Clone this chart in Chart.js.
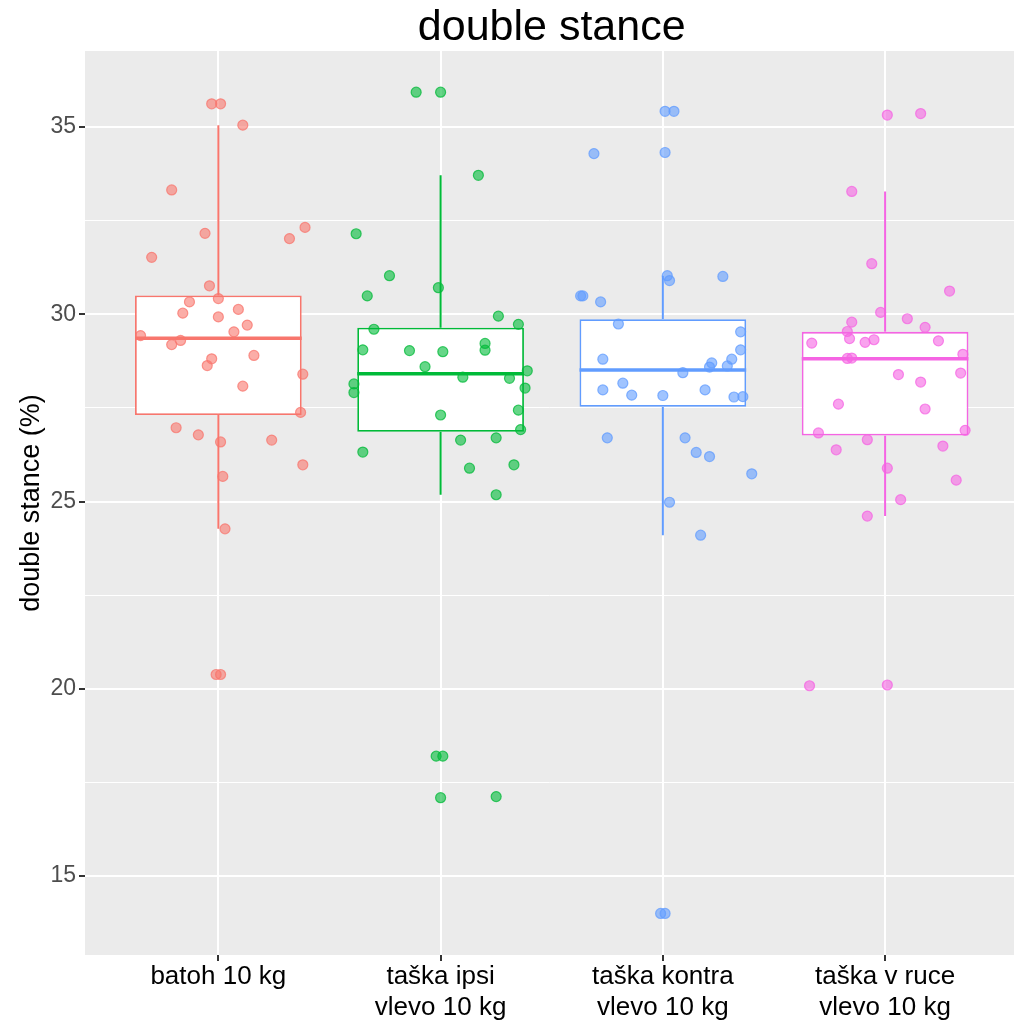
<!DOCTYPE html>
<html>
<head>
<meta charset="utf-8">
<title>double stance</title>
<script src="https://cdn.jsdelivr.net/npm/chart.js@4/dist/chart.umd.min.js"></script>
<style>
  body { margin: 0; background: #fff; }
  canvas { display: block; }
</style>
</head>
<body>
<canvas id="stanceChart" width="1014" height="1023"></canvas>
<script>
var chartTitle = "double stance"
var yTitle = "double stance (%)"
var groupLabels = [["batoh 10 kg"], ["taška ipsi", "vlevo 10 kg"], ["taška kontra", "vlevo 10 kg"], ["taška v ruce", "vlevo 10 kg"]]
var groupColors = ["248,118,109", "0,186,56", "97,156,255", "245,100,227"]

// box statistics per group
var boxLow = [24.27, 25.18, 24.10, 24.61]
var boxQ1 = [27.31, 26.86, 27.53, 26.76]
var boxMedian = [29.36, 28.41, 28.51, 28.81]
var boxQ3 = [30.50, 29.64, 29.87, 29.53]
var boxHigh = [35.05, 33.71, 31.03, 33.28]

// measured values and their horizontal jitter (in category units)
var batohY = [35.62, 35.62, 35.05, 33.32, 32.16, 32.02, 32.32, 31.52, 30.76, 30.42, 30.33, 30.13, 30.03, 29.93, 29.71, 29.53, 29.43, 29.30, 29.19, 28.90, 28.81, 28.63, 28.40, 28.08, 27.38, 26.97, 26.78, 26.59, 26.64, 25.98, 25.67, 24.27, 20.38, 20.38]
var batohDx = [-0.03, 0.01, 0.11, -0.21, -0.06, 0.32, 0.39, -0.30, -0.04, 0.00, -0.13, 0.09, -0.16, 0.00, 0.13, 0.07, -0.35, -0.17, -0.21, 0.16, -0.03, -0.05, 0.38, 0.11, 0.37, -0.19, -0.09, 0.01, 0.24, 0.38, 0.02, 0.03, -0.01, 0.01]

var ipsiY = [35.93, 35.93, 33.71, 32.15, 31.03, 30.49, 30.71, 29.95, 29.73, 29.60, 29.05, 29.03, 29.00, 29.22, 29.04, 28.60, 28.49, 28.14, 27.91, 28.32, 28.29, 28.03, 27.44, 27.31, 26.92, 26.64, 26.70, 26.32, 25.89, 25.98, 25.18, 18.20, 18.20, 17.09, 17.12]
var ipsiDx = [-0.11, 0.00, 0.17, -0.38, -0.23, -0.33, -0.01, 0.26, 0.35, -0.30, -0.35, -0.14, 0.01, 0.20, 0.20, -0.07, 0.39, -0.39, -0.39, 0.10, 0.31, 0.38, 0.35, 0.00, 0.36, 0.09, 0.25, -0.35, 0.13, 0.33, 0.25, -0.02, 0.01, 0.00, 0.25]

var kontraY = [35.42, 35.42, 34.29, 34.32, 31.03, 30.90, 31.01, 30.49, 30.49, 30.33, 29.74, 29.53, 29.05, 28.80, 28.70, 28.59, 28.80, 28.62, 28.44, 27.98, 28.16, 27.84, 27.83, 27.98, 27.79, 27.80, 26.70, 26.70, 26.31, 26.20, 25.74, 24.98, 24.10, 14.00, 14.00]
var kontraDx = [0.01, 0.05, -0.31, 0.01, 0.02, 0.03, 0.27, -0.37, -0.36, -0.28, -0.20, 0.35, 0.35, -0.27, 0.22, 0.21, 0.31, 0.29, 0.09, -0.27, -0.18, -0.14, 0.00, 0.19, 0.32, 0.36, -0.25, 0.10, 0.15, 0.21, 0.40, 0.03, 0.17, -0.01, 0.01]

var ruceY = [35.32, 35.36, 33.28, 31.35, 30.62, 30.05, 29.88, 29.79, 29.65, 29.54, 29.35, 29.23, 29.25, 29.32, 29.29, 28.93, 28.82, 28.83, 28.43, 28.39, 28.19, 27.60, 27.47, 26.90, 26.83, 26.65, 26.38, 26.48, 25.89, 25.57, 25.05, 24.61, 20.08, 20.10]
var ruceDx = [0.01, 0.16, -0.15, -0.06, 0.29, -0.02, 0.10, -0.15, 0.18, -0.17, -0.16, -0.33, -0.09, -0.05, 0.24, 0.35, -0.17, -0.15, 0.34, 0.06, 0.16, -0.21, 0.18, 0.36, -0.30, -0.08, -0.22, 0.26, 0.01, 0.32, 0.07, -0.08, -0.34, 0.01]

var groupY = [batohY, ipsiY, kontraY, ruceY]
var groupDx = [batohDx, ipsiDx, kontraDx, ruceDx]

var yMin = 12.89
var yMax = 37.03
var yGrid = [15, 17.5, 20, 22.5, 25, 27.5, 30, 32.5, 35]
var boxWidth = 0.75

function rgba(c, a){
    return "rgba(" + c + "," + a + ")"
}

var datasets = []

// boxes as floating bars
datasets.push({
    type: "bar",
    data: groupLabels.map(function(g, i){ return {x: i + 1, y: [boxQ1[i], boxQ3[i]]} }),
    backgroundColor: "#ffffff",
    borderColor: groupColors.map(function(c){ return rgba(c, 1) }),
    borderWidth: 1.8,
    borderSkipped: false,
    barPercentage: boxWidth,
    categoryPercentage: 1,
    order: 3
})

for (var i = 0; i < groupLabels.length; i++){
    var x = i + 1
    // whiskers
    datasets.push({
        type: "line",
        data: [{x: x, y: boxQ3[i]}, {x: x, y: boxHigh[i]}, {x: x, y: null}, {x: x, y: boxQ1[i]}, {x: x, y: boxLow[i]}],
        borderColor: rgba(groupColors[i], 1),
        borderWidth: 2,
        pointRadius: 0,
        spanGaps: false,
        order: 2
    })
    // median
    datasets.push({
        type: "line",
        data: [{x: x - boxWidth / 2, y: boxMedian[i]}, {x: x + boxWidth / 2, y: boxMedian[i]}],
        borderColor: rgba(groupColors[i], 1),
        borderWidth: 3.5,
        pointRadius: 0,
        order: 1
    })
    // jittered points
    datasets.push({
        type: "scatter",
        data: groupY[i].map(function(v, j){ return {x: x + groupDx[i][j], y: v} }),
        pointRadius: 5,
        backgroundColor: rgba(groupColors[i], 0.6),
        borderColor: rgba(groupColors[i], 0.75),
        borderWidth: 1.2,
        order: 0
    })
}

var panelBackground = {
    id: "panelBackground",
    beforeDraw: function(chart){
        var a = chart.chartArea
        var ctx = chart.ctx
        ctx.save()
        ctx.fillStyle = "#EBEBEB"
        ctx.fillRect(a.left, a.top, a.right - a.left, a.bottom - a.top)
        ctx.restore()
    }
}

var plotTitle = {
    id: "plotTitle",
    afterDraw: function(chart){
        var ctx = chart.ctx
        var xs = chart.scales.x
        // centred over the full panel width (0.4 .. 4.6)
        var cx = (xs.getPixelForValue(0.4) + xs.getPixelForValue(4.6)) / 2
        ctx.save()
        ctx.fillStyle = "#000"
        ctx.font = "43px 'Liberation Sans', Arial, sans-serif"
        ctx.textAlign = "center"
        ctx.textBaseline = "alphabetic"
        ctx.fillText(chartTitle, cx, 40)
        ctx.restore()
    }
}

var isMajor = function(v){ return Math.abs(v % 5) < 1e-9 }

new Chart(document.getElementById("stanceChart"), {
    type: "scatter",
    data: {datasets: datasets},
    options: {
        responsive: false,
        animation: false,
        devicePixelRatio: 1,
        layout: {autoPadding: false, padding: {top: 51, left: 0, right: 0, bottom: 0}},
        plugins: {
            legend: {display: false},
            tooltip: {enabled: false},
            title: {display: false}
        },
        scales: {
            x: {
                type: "linear",
                offset: false,
                min: 0.4,
                max: 4.58,
                afterBuildTicks: function(s){
                    s.ticks = groupLabels.map(function(g, i){ return {value: i + 1} })
                },
                afterFit: function(s){ s.height = 68 },
                ticks: {
                    autoSkip: false,
                    maxRotation: 0,
                    padding: 1,
                    color: "#000",
                    font: {family: "'Liberation Sans', Arial, sans-serif", size: 26, lineHeight: 1.17},
                    callback: function(v){ return groupLabels[Math.round(v) - 1] }
                },
                grid: {offset: false, color: "#ffffff", lineWidth: 2, tickColor: "#333333", tickLength: 6},
                border: {display: false}
            },
            y: {
                type: "linear",
                min: yMin,
                max: yMax,
                afterBuildTicks: function(s){
                    s.ticks = yGrid.map(function(v){ return {value: v} })
                },
                afterFit: function(s){ s.width = 85 },
                ticks: {
                    autoSkip: false,
                    padding: 3,
                    color: "#4D4D4D",
                    font: {family: "'Liberation Sans', Arial, sans-serif", size: 23},
                    callback: function(v){ return isMajor(v) ? String(v) : "" }
                },
                grid: {
                    color: "#ffffff",
                    lineWidth: function(c){ return c.tick && isMajor(c.tick.value) ? 2 : 1 },
                    tickColor: function(c){ return c.tick && isMajor(c.tick.value) ? "#333333" : "rgba(0,0,0,0)" },
                    tickLength: 6
                },
                border: {display: false},
                title: {
                    display: true,
                    text: yTitle,
                    color: "#000",
                    font: {family: "'Liberation Sans', Arial, sans-serif", size: 27},
                    padding: {top: 15, bottom: 0}
                }
            }
        }
    },
    plugins: [panelBackground, plotTitle]
})
</script>
</body>
</html>
